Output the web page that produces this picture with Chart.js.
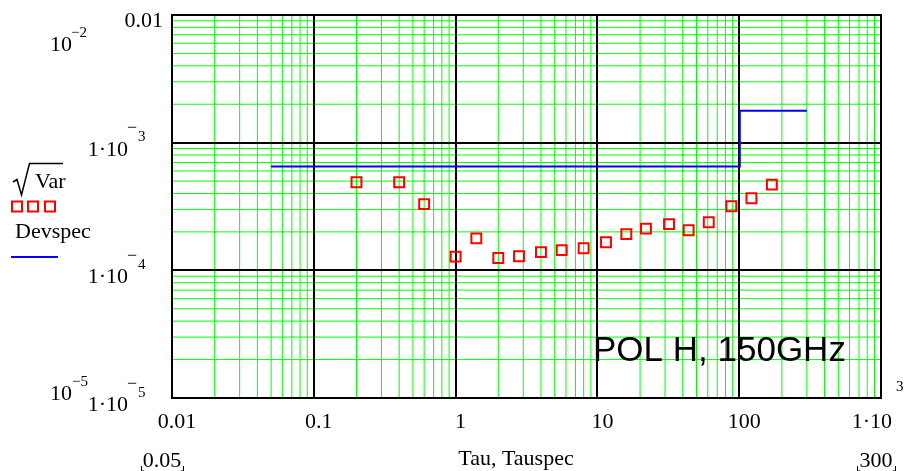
<!DOCTYPE html>
<html>
<head>
<meta charset="utf-8">
<script src="https://cdn.jsdelivr.net/npm/chart.js@4/dist/chart.umd.min.js"></script>
<style>
  html, body { margin: 0; padding: 0; background: #ffffff; overflow: hidden; }
  canvas { display: block; }
</style>
</head>
<body>
<canvas id="c" width="910" height="471"></canvas>
<script>
// Measured standard deviation vs. integration time
const tau = [0.2, 0.4, 0.6, 1.0, 1.4, 2.0, 2.8, 4.0, 5.6, 8.0, 11.5, 16, 22, 32, 44, 61, 88, 122, 170];
const sqrtVar = [4.90e-4, 4.90e-4, 3.30e-4, 1.28e-4, 1.78e-4, 1.25e-4, 1.29e-4, 1.39e-4, 1.44e-4, 1.49e-4,
                 1.66e-4, 1.92e-4, 2.12e-4, 2.30e-4, 2.06e-4, 2.38e-4, 3.18e-4, 3.67e-4, 4.69e-4];

// Specification limit (step at 100 s)
const tauSpec = [0.05, 101, 101, 300];
const devSpec = [6.5e-4, 6.5e-4, 1.78e-3, 1.78e-3];

// Axis ranges and labels
const xRange = [0.01, 1000];
const yRange = [1e-5, 1e-2];
const xTickValues = [0.01, 0.1, 1, 10, 100, 1000];
const xTickText = ['0.01', '0.1', '1', '10', '100', '1·10'];
const xTickExp = ['', '', '', '', '', '3'];
const yTickValues = [1e-2, 1e-3, 1e-4, 1e-5];
const yTickText = ['0.01', '1·10', '1·10', '1·10'];
const yTickExp = ['', '3', '4', '5'];
const yLimitTop = ['10', '−2'];
const yLimitBottom = ['10', '−5'];
const xLimitLeft = '0.05';
const xLimitRight = '300';
const xTitle = 'Tau, Tauspec';
const seriesNames = ['Var', 'Devspec'];
const annotation = 'POL H, 150GHz';

const SERIF = '"Liberation Serif", "Times New Roman", serif';
const SANS = '"Liberation Sans", Arial, sans-serif';
const RED = '#ff0000';
const BLUE = '#0000ff';
const GREEN = '#00ff00';

// values 1..9 x 10^e across the scale range
function decadeValues(scale) {
  const lo = Math.round(Math.log10(scale.min));
  const hi = Math.round(Math.log10(scale.max));
  const minor = [], major = [];
  for (let e = lo; e < hi; e++) {
    major.push(Math.pow(10, e));
    for (let d = 2; d <= 9; d++) minor.push(d * Math.pow(10, e));
  }
  major.push(Math.pow(10, hi));
  return { minor, major };
}

// log grid: green minor lines, black decade lines
const gridPlugin = {
  id: 'logGrid',
  beforeDatasetsDraw(chart) {
    const ctx = chart.ctx;
    const a = chart.chartArea;
    const xs = chart.scales.x, ys = chart.scales.y;
    const gx = decadeValues(xs), gy = decadeValues(ys);
    ctx.save();
    ctx.strokeStyle = GREEN;
    ctx.lineWidth = 1;
    ctx.beginPath();
    gx.minor.forEach((v) => {
      const p = xs.getPixelForValue(v);
      ctx.moveTo(p, a.top); ctx.lineTo(p, a.bottom);
    });
    gy.minor.forEach((v) => {
      const p = ys.getPixelForValue(v);
      ctx.moveTo(a.left, p); ctx.lineTo(a.right, p);
    });
    ctx.stroke();
    ctx.strokeStyle = '#000000';
    ctx.lineWidth = 2;
    ctx.beginPath();
    gx.major.forEach((v) => {
      const p = Math.round(xs.getPixelForValue(v));
      ctx.moveTo(p, a.top); ctx.lineTo(p, a.bottom);
    });
    gy.major.forEach((v) => {
      const p = Math.round(ys.getPixelForValue(v));
      ctx.moveTo(a.left, p); ctx.lineTo(a.right, p);
    });
    ctx.stroke();
    ctx.restore();
  }
};

const labelsPlugin = {
  id: 'mathcadLabels',
  afterDraw(chart) {
    const ctx = chart.ctx;
    const area = chart.chartArea;
    const xs = chart.scales.x;
    const ys = chart.scales.y;
    ctx.save();

    // frame
    ctx.strokeStyle = '#000000';
    ctx.lineWidth = 2;
    ctx.strokeRect(Math.round(area.left), Math.round(area.top),
                   Math.round(area.right - area.left), Math.round(area.bottom - area.top));

    ctx.fillStyle = '#000000';
    ctx.textBaseline = 'alphabetic';

    // y tick labels
    yTickValues.forEach((v, i) => {
      const g = ys.getPixelForValue(v);
      ctx.font = '22px ' + SERIF;
      if (!yTickExp[i]) {
        ctx.textAlign = 'right';
        ctx.fillText(yTickText[i], area.left - 9, g + 12);
      } else {
        const mx = area.left - 44;
        ctx.textAlign = 'right';
        ctx.fillText(yTickText[i], mx, g + 13);
        ctx.textAlign = 'left';
        ctx.font = '18px ' + SERIF;
        ctx.fillText('−', mx - 1, g - 9.5);
        ctx.font = '15px ' + SERIF;
        ctx.fillText(yTickExp[i], mx + 10, g - 1.5);
      }
    });

    // axis limit labels on the far left
    ctx.textAlign = 'left';
    ctx.font = '22px ' + SERIF;
    ctx.fillText(yLimitTop[0], 50, 50.5);
    ctx.fillText(yLimitBottom[0], 50, 400);
    ctx.font = '15px ' + SERIF;
    ctx.fillText(yLimitTop[1], 71, 37);
    ctx.fillText(yLimitBottom[1], 72, 385.5);

    // x tick labels
    xTickValues.forEach((v, i) => {
      const px = xs.getPixelForValue(v);
      ctx.font = '22px ' + SERIF;
      if (!xTickExp[i]) {
        ctx.textAlign = 'center';
        ctx.fillText(xTickText[i], px + 5, area.bottom + 30);
      } else {
        ctx.textAlign = 'right';
        ctx.fillText(xTickText[i], px + 11, area.bottom + 30);
        ctx.font = '15px ' + SERIF;
        ctx.textAlign = 'left';
        ctx.fillText(xTickExp[i], px + 15, area.bottom - 7);
      }
    });

    // bottom row: range placeholders and axis title
    ctx.font = '22px ' + SERIF;
    ctx.textAlign = 'center';
    ctx.fillText(xLimitLeft, 162, 467);
    ctx.fillText(xTitle, 516, 465);
    ctx.fillText(xLimitRight, 876, 467);
    ctx.lineWidth = 1;
    ctx.strokeStyle = '#000000';
    const corner = (x, dir) => {
      ctx.beginPath();
      ctx.moveTo(x + 0.5, 466);
      ctx.lineTo(x + 0.5, 471);
      ctx.lineTo(x + 0.5 + 3 * dir, 471);
      ctx.stroke();
    };
    corner(141, 1); corner(183, -1);
    corner(857, 1); corner(895, -1);

    // legend: sqrt(Var)
    ctx.lineWidth = 1.5;
    ctx.beginPath();
    ctx.moveTo(13, 182);
    ctx.lineTo(17, 179.5);
    ctx.lineTo(21.5, 195);
    ctx.lineTo(29.5, 163.5);
    ctx.lineTo(63, 163.5);
    ctx.stroke();
    ctx.textAlign = 'left';
    ctx.font = '22px ' + SERIF;
    ctx.fillText(seriesNames[0], 35, 188);
    ctx.strokeStyle = RED;
    ctx.lineWidth = 2;
    [17, 33, 50].forEach((cx) => ctx.strokeRect(cx - 5, 201.5, 10, 10));

    // legend: Devspec
    ctx.fillStyle = '#000000';
    ctx.fillText(seriesNames[1], 15, 238);
    ctx.strokeStyle = BLUE;
    ctx.beginPath();
    ctx.moveTo(11, 257);
    ctx.lineTo(58, 257);
    ctx.stroke();

    // annotation
    ctx.fillStyle = '#000000';
    ctx.font = '35px ' + SANS;
    ctx.textAlign = 'left';
    ctx.fillText(annotation, 593, 361);

    ctx.restore();
  }
};

new Chart(document.getElementById('c'), {
  type: 'scatter',
  data: {
    datasets: [
      {
        label: 'sqrt(Var)',
        data: tau.map((t, i) => ({ x: t, y: sqrtVar[i] })),
        pointStyle: 'rect',
        pointRadius: 7,
        pointBorderWidth: 2,
        borderColor: RED,
        backgroundColor: 'rgba(0,0,0,0)',
        showLine: false
      },
      {
        label: 'Devspec',
        data: tauSpec.map((t, i) => ({ x: t, y: devSpec[i] })),
        showLine: true,
        borderColor: BLUE,
        borderWidth: 2,
        pointRadius: 0,
        fill: false
      }
    ]
  },
  options: {
    responsive: false,
    animation: false,
    devicePixelRatio: 1,
    layout: { padding: { left: 172, right: 29, top: 15, bottom: 73 } },
    plugins: { legend: { display: false }, tooltip: { enabled: false } },
    scales: {
      x: {
        type: 'logarithmic',
        min: xRange[0],
        max: xRange[1],
        ticks: { display: false },
        grid: { display: false, drawTicks: false },
        border: { display: false }
      },
      y: {
        type: 'logarithmic',
        min: yRange[0],
        max: yRange[1],
        ticks: { display: false },
        grid: { display: false, drawTicks: false },
        border: { display: false }
      }
    }
  },
  plugins: [gridPlugin, labelsPlugin]
});
</script>
</body>
</html>
